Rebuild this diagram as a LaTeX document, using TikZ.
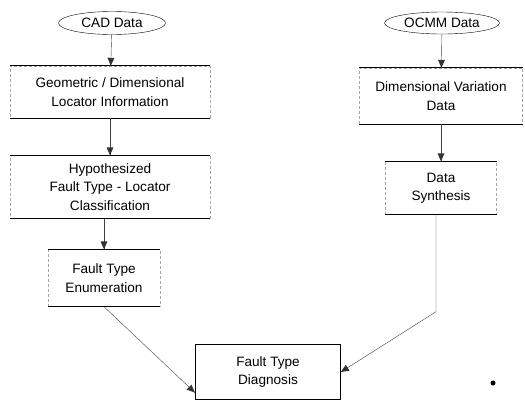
\documentclass[tikz,border=0pt]{standalone}
\usepackage{fontspec}
\setmainfont{Liberation Sans}
\usetikzlibrary{shapes.geometric,decorations.markings}

\tikzset{
	txt/.style={font=\fontsize{13.6}{18.5}\selectfont, align=center, inner sep=0pt},
	src/.style={txt, ellipse, draw, thin},
	flow/.style={txt, draw=black!35, densely dashed, thin},
	rule/.style={draw=black, line width=0.8pt},
	result/.style={txt, draw, line width=0.7pt},
	link/.style={draw=black!75, thin,
		postaction={decorate, decoration={markings,
			mark=at position 1 with {\fill[black!80] (0pt,0pt) -- (-8pt,3.5pt) -- (-8pt,-3.5pt) -- cycle;}}}},
}

\begin{document}
\begin{tikzpicture}[x=1pt, y=-1pt]
		\useasboundingbox (0,0) rectangle (525,405);
		\node[src, minimum width=107, minimum height=23] (cad) at (112,23) {CAD Data};
		\node[src, minimum width=115, minimum height=22] (ocmm) at (442,23) {OCMM Data};
		\node[flow, minimum width=200, minimum height=52] (geo) at (110,92)
			{Geometric / Dimensional\\Locator Information};
		\node[flow, minimum width=200, minimum height=63] (hyp) at (110,187)
			{Hypothesized\\Fault Type - Locator\\Classification};
		\node[flow, minimum width=112, minimum height=57] (enum) at (104,278)
			{Fault Type\\Enumeration};
		\node[flow, minimum width=163, minimum height=56] (dvar) at (441,96)
			{Dimensional Variation\\Data};
		\node[flow, minimum width=111, minimum height=53] (synth) at (441,188)
			{Data\\Synthesis};
		\node[result, minimum width=145, minimum height=55] (diag) at (268,372)
			{Fault Type\\Diagnosis};
		\foreach \b in {geo,hyp,enum,dvar,synth}{
			\draw[rule] (\b.north west) -- (\b.north east)
				(\b.south west) -- (\b.south east);
			}
		\draw[link] (cad) -- (geo);
		\draw[link] (geo) -- (hyp);
		\draw[link] (hyp.south -| enum.north) -- (enum.north);
		\draw[link] (ocmm) -- (dvar);
		\draw[link] (dvar) -- (synth);
		\draw[link] (enum.south) -- ([yshift=7pt]diag.south west);
		\draw[link] ([xshift=-5pt]synth.south) -- ++(0,97) -- (diag.east);
		\fill (493,383) circle (2.5);
\end{tikzpicture}
\end{document}
